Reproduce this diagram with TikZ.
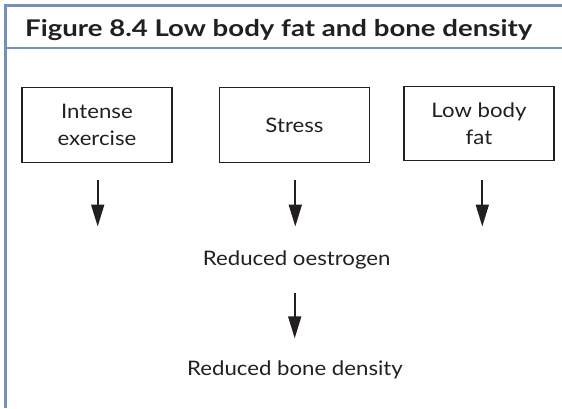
\documentclass[tikz,border=0pt]{standalone}
\usepackage{fontspec}
\setmainfont[FakeStretch=1.11]{Lato}
\newfontfamily\titlefont[FakeStretch=1.2]{Lato}
\usetikzlibrary{arrows.meta}
\definecolor{frameblue}{HTML}{7391BA}
\definecolor{ink}{HTML}{231F20}
\begin{document}
\begin{tikzpicture}[x=1pt,y=-1pt,
  boxnode/.style={draw=ink, line width=1.1pt, minimum width=150pt, minimum height=74.5pt,
    align=center, text=ink, font=\fontsize{20}{26.5}\selectfont, inner sep=0pt},
  plain/.style={font=\fontsize{20}{24}\selectfont, text=ink, inner sep=0pt, anchor=base},
  arr/.style={draw=ink, line width=1.8pt, -{Triangle[width=13pt,length=22pt]}},
  framel/.style={draw=frameblue, line width=2.5pt}]
\useasboundingbox (0,0) rectangle (562,408);
% frame
\coordinate (tl) at (5.3,5.3);
\coordinate (tr) at (562,5.3);
\coordinate (hl) at (5.3,48);
\coordinate (hr) at (562,48);
\coordinate (bl) at (5.3,408);
\draw[framel] (tr) -- (tl) -- (bl);
\draw[framel] (hl) -- (hr);
% title
\node[font=\titlefont\fontsize{23}{23}\selectfont\bfseries, text=ink, anchor=base west, inner sep=0pt] (title) at (25,36) {Figure 8.4 Low body fat and bone density};
% boxes
\node[boxnode] (ie) at (97,125) {Intense\\exercise};
\node[boxnode] (st) at (294.5,125) {Stress};
\node[boxnode] (lbf) at (479,123.5) {Low body\\fat};
% arrows from boxes
\coordinate (a1s) at (97.7,180);
\coordinate (a1e) at (97.7,226.5);
\coordinate (a2s) at (295.3,180);
\coordinate (a2e) at (295.3,226.5);
\coordinate (a3s) at (482.3,180);
\coordinate (a3e) at (482.3,226.5);
\draw[arr] (a1s) -- (a1e);
\draw[arr] (a2s) -- (a2e);
\draw[arr] (a3s) -- (a3e);
% texts
\node[plain] (ro) at (296.7,265) {Reduced oestrogen};
\node[plain] (rbd) at (295,375.7) {Reduced bone density};
\coordinate (a4s) at (294.7,293.3);
\coordinate (a4e) at (294.7,338.3);
\draw[arr] (a4s) -- (a4e);
\end{tikzpicture}
\end{document}
